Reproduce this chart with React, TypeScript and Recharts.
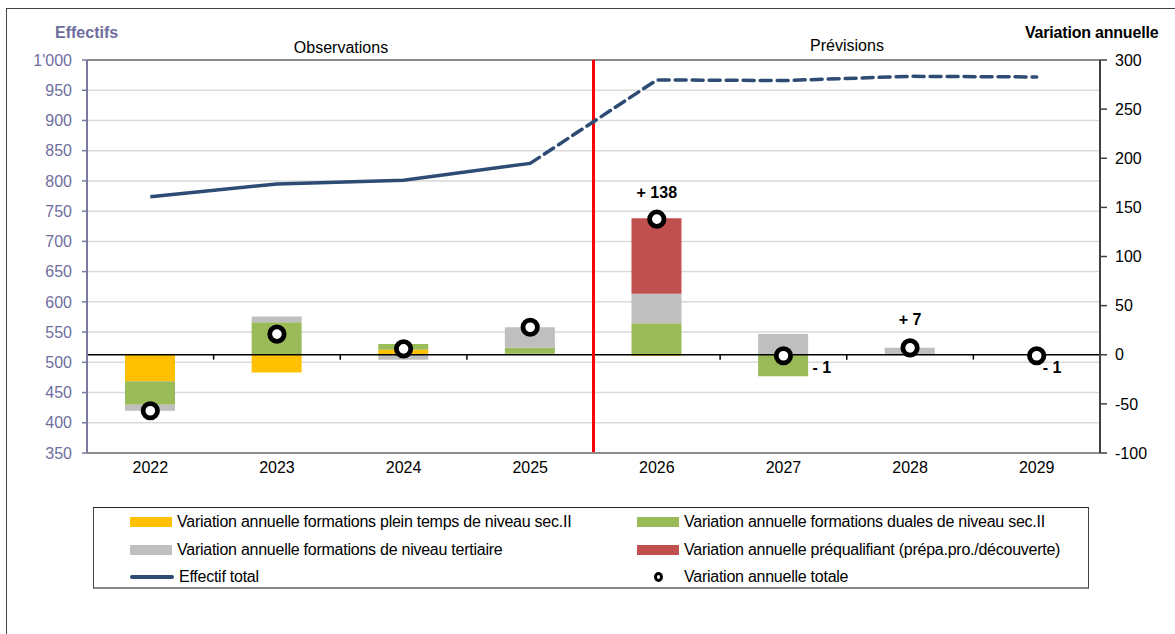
import React from 'react';
import {
  ComposedChart, Bar, Line, XAxis, YAxis, CartesianGrid, ReferenceLine, LabelList,
} from 'recharts';

const years = ['2022', '2023', '2024', '2025', '2026', '2027', '2028', '2029'];
const pleinTemps = [-27, -18, 5, 1, -1, 0, 0, 0];
const duales = [-24, 33, 6, 6, 32, -22, 0, 0];
const tertiaire = [-6, 6, -5, 21, 30, 21, 7, 0];
const prequalifiant = [0, 0, 0, 0, 77, 0, 0, 0];
const totale = [-57, 21, 6, 28, 138, -1, 7, -1];
const effectif = [774, 795, 801, 829, 967, 966, 973, 972];
const lastObserved = 3;
const totalLabels = ['', '', '', '', '+ 138', '- 1', '+ 7', '- 1'];
const leftTicks = [350, 400, 450, 500, 550, 600, 650, 700, 750, 800, 850, 900, 950, 1000];
const rightTicks = [-100, -50, 0, 50, 100, 150, 200, 250, 300];

const data = years.map((year, i) => ({
  year,
  pleinTemps: pleinTemps[i],
  duales: duales[i],
  tertiaire: tertiaire[i],
  prequalifiant: prequalifiant[i],
  totale: totale[i],
  effSolid: i <= lastObserved ? effectif[i] : null,
  effDash: i >= lastObserved ? effectif[i] : null,
  lbl: totalLabels[i],
}));

const FONT = "'Liberation Sans Narrow', 'Arial Narrow', 'Liberation Sans', Arial, sans-serif";
const C = {
  yellow: '#ffc000',
  green: '#9bbb59',
  grey: '#bfbfbf',
  red: '#c0504d',
  line: '#2d4b73',
  purple: '#6e6e9e',
};

// label placement relative to the dot
const labelOffset: Record<string, { dx: number; dy: number; anchor: 'start' | 'middle' }> = {
  '2026': { dx: 0, dy: -27, anchor: 'middle' },
  '2027': { dx: 29, dy: 12, anchor: 'start' },
  '2028': { dx: 0, dy: -28, anchor: 'middle' },
  '2029': { dx: 6, dy: 12, anchor: 'start' },
};

const RingDot = (props: any) => {
  const { cx, cy, index } = props;
  if (cx == null || cy == null) return <g key={`d${index}`} />;
  return (
    <circle key={`d${index}`} cx={cx} cy={cy} r={7.2} fill="#fff" stroke="#000" strokeWidth={4.8} />
  );
};

const TotalLabel = (props: any) => {
  const { x, y, value, index } = props;
  if (!value) return null;
  const off = labelOffset[years[index]];
  return (
    <text
      x={x + off.dx}
      y={y + off.dy}
      textAnchor={off.anchor}
      dominantBaseline="central"
      fontFamily={FONT}
      fontWeight="bold"
      fontSize={16}
      fill="#000"
    >
      {value}
    </text>
  );
};

const tickFmtLeft = (v: number) => (v >= 1000 ? `${Math.floor(v / 1000)}'${String(v % 1000).padStart(3, '0')}` : String(v));

const legendItems = [
  { label: 'Variation annuelle formations plein temps de niveau sec.II', kind: 'rect', color: C.yellow },
  { label: 'Variation annuelle formations duales de niveau sec.II', kind: 'rect', color: C.green },
  { label: 'Variation annuelle formations de niveau tertiaire', kind: 'rect', color: C.grey },
  { label: 'Variation annuelle préqualifiant (prépa.pro./découverte)', kind: 'rect', color: C.red },
  { label: 'Effectif total', kind: 'line', color: C.line },
  { label: 'Variation annuelle totale', kind: 'dot', color: '#000' },
];

const LegendSwatch = ({ kind, color }: { kind: string; color: string }) => {
  if (kind === 'rect') return <div style={{ width: 42, height: 10, background: color }} />;
  if (kind === 'line')
    return <div style={{ width: 44, height: 4, borderRadius: 2, background: color }} />;
  return (
    <div style={{ width: 42, display: 'flex', justifyContent: 'center' }}>
      <div style={{ width: 3, height: 4, borderRadius: '50%', border: '3.5px solid #000', background: '#fff' }} />
    </div>
  );
};

export default function App() {
  const boundaries = years.slice(1);
  return (
    <div style={{ position: 'absolute', left: 0, top: 0, width: 1175, height: 634, overflow: 'hidden', background: '#fff', fontFamily: FONT }}>
      <div style={{ position: 'absolute', left: 6, top: 8, width: 1300, height: 800, border: '1.5px solid #444' }} />
      <div style={{ position: 'absolute', left: 0, top: 0 }}>
        <ComposedChart
          width={1175}
          height={634}
          data={data}
          stackOffset="sign"
          margin={{ top: 60, right: 15, left: 27, bottom: 151 }}
        >
          <CartesianGrid yAxisId="left" vertical={false} stroke="#d9d9d9" strokeWidth={1.5} />
          <XAxis
            dataKey="year"
            height={30}
            tickLine={false}
            tickSize={6}
            tickMargin={3}
            axisLine={{ stroke: '#8c8c8c', strokeWidth: 2 }}
            tick={{ fill: '#000', fontSize: 16, fontFamily: FONT }}
          />
          <YAxis
            yAxisId="left"
            width={60}
            domain={[350, 1000]}
            ticks={leftTicks}
            interval={0}
            tickFormatter={tickFmtLeft}
            tickSize={5}
            tickMargin={10}
            axisLine={{ stroke: '#7a7aa0', strokeWidth: 2 }}
            tickLine={{ stroke: '#7a7aa0', strokeWidth: 1.5 }}
            tick={{ fill: C.purple, fontSize: 16, fontFamily: FONT }}
          />
          <YAxis
            yAxisId="right"
            orientation="right"
            width={60}
            domain={[-100, 300]}
            ticks={rightTicks}
            interval={0}
            tickSize={7}
            tickMargin={8}
            axisLine={{ stroke: '#404040', strokeWidth: 2 }}
            tickLine={{ stroke: '#404040', strokeWidth: 1.5 }}
            tick={{ fill: '#000', fontSize: 16, fontFamily: FONT }}
          />
          <ReferenceLine yAxisId="left" y={1000} stroke="#8c8c8c" strokeWidth={2} />
          <Bar yAxisId="right" dataKey="pleinTemps" stackId="v" fill={C.yellow} barSize={50} isAnimationActive={false} />
          <Bar yAxisId="right" dataKey="duales" stackId="v" fill={C.green} barSize={50} isAnimationActive={false} />
          <Bar yAxisId="right" dataKey="tertiaire" stackId="v" fill={C.grey} barSize={50} isAnimationActive={false} />
          <Bar yAxisId="right" dataKey="prequalifiant" stackId="v" fill={C.red} barSize={50} isAnimationActive={false} />
          <ReferenceLine yAxisId="right" y={0} stroke="#000" strokeWidth={1.5} />
          {boundaries.map((b) => (
            <ReferenceLine
              key={`t${b}`}
              yAxisId="right"
              position="start"
              segment={[{ x: b, y: 0 }, { x: b, y: -5 }]}
              stroke="#000"
              strokeWidth={1.5}
            />
          ))}
          <ReferenceLine yAxisId="left" x="2026" position="start" stroke="#ff0000" strokeWidth={3} />
          <Line yAxisId="left" dataKey="effSolid" stroke={C.line} strokeWidth={3.5} dot={false} connectNulls={false} isAnimationActive={false} />
          <Line yAxisId="left" dataKey="effDash" stroke={C.line} strokeWidth={3.5} strokeDasharray="11 6" strokeLinecap="round" dot={false} connectNulls={false} isAnimationActive={false} />
          <Line yAxisId="right" dataKey="totale" stroke="none" strokeWidth={0} dot={RingDot} activeDot={false} isAnimationActive={false}>
            <LabelList dataKey="lbl" content={TotalLabel} />
          </Line>
        </ComposedChart>
      </div>

      <div style={{ position: 'absolute', left: 55, top: 24, fontSize: 16, fontWeight: 'bold', color: C.purple }}>Effectifs</div>
      <div style={{ position: 'absolute', left: 1025, top: 24, fontSize: 16, fontWeight: 'bold', color: '#000', letterSpacing: -0.2 }}>Variation annuelle</div>
      <div style={{ position: 'absolute', left: 341, top: 48, transform: 'translate(-50%, -50%)', fontSize: 16, color: '#000', whiteSpace: 'nowrap' }}>Observations</div>
      <div style={{ position: 'absolute', left: 847, top: 46, transform: 'translate(-50%, -50%)', fontSize: 16, color: '#000', whiteSpace: 'nowrap' }}>Prévisions</div>

      <div
        style={{
          position: 'absolute', left: 93, top: 507, width: 996, height: 82,
          borderTop: '1.5px solid #222', borderLeft: '1px solid #444', borderRight: '1px solid #444', borderBottom: '2px solid #888',
          boxSizing: 'border-box',
        }}
      >
        {legendItems.map((it, i) => {
          const col = i % 2;
          const row = Math.floor(i / 2);
          return (
            <div
              key={it.label}
              style={{
                position: 'absolute', left: col === 0 ? 36 : 543, top: 14 + row * 27.5 - 9,
                height: 18, display: 'flex', alignItems: 'center', gap: 5, whiteSpace: 'nowrap', fontSize: 16, color: '#000',
                letterSpacing: -0.25,
              }}
            >
              <LegendSwatch kind={it.kind} color={it.color} />
              <span>{it.label}</span>
            </div>
          );
        })}
      </div>
    </div>
  );
}
